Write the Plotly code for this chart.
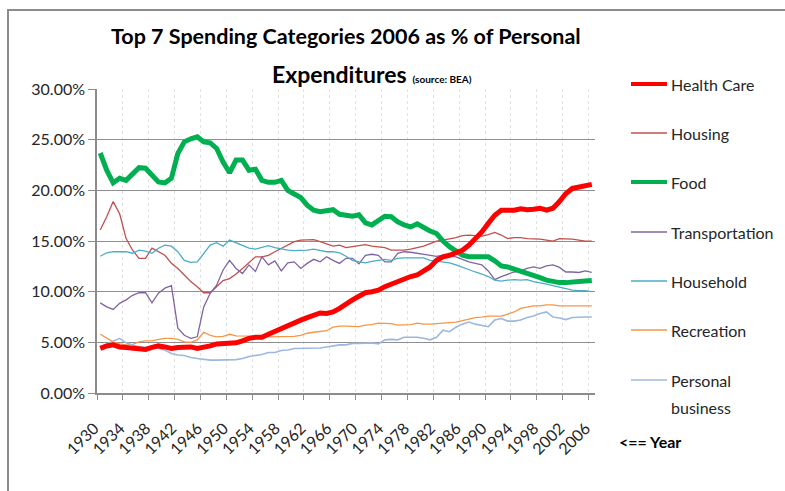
import plotly.graph_objects as go

years = list(range(1930, 2007))

health_care = [4.4, 4.65, 4.75, 4.55, 4.5, 4.4, 4.35, 4.3, 4.5, 4.65, 4.55, 4.4, 4.5, 4.55, 4.55, 4.4, 4.5, 4.65, 4.85, 4.85,
               4.9, 4.95, 5.15, 5.4, 5.5, 5.5, 5.8, 6.1, 6.4, 6.7, 6.95, 7.2, 7.45, 7.7, 7.9, 7.85, 8.0, 8.35, 8.85, 9.2,
               9.55, 9.9, 10.0, 10.15, 10.5, 10.75, 11.1, 11.3, 11.5, 11.65, 12.0, 12.45, 13.1, 13.45, 13.6, 13.85, 14.1, 14.6, 15.25, 15.9,
               16.75, 17.55, 18.05, 18.05, 18.05, 18.2, 18.1, 18.15, 18.25, 18.05, 18.25, 18.9, 19.7, 20.2, 20.35, 20.45, 20.6]

housing = [16.1, 17.4, 18.9, 17.7, 15.25, 14.1, 13.3, 13.3, 14.3, 13.95, 13.6, 12.8, 12.3, 11.65, 11.0, 10.5, 9.9, 9.9, 10.5, 11.1,
           11.3, 11.75, 12.3, 12.85, 13.45, 13.45, 13.6, 13.95, 14.3, 14.6, 14.95, 15.1, 15.1, 15.15, 14.95, 14.7, 14.5, 14.6, 14.35, 14.45,
           14.55, 14.65, 14.5, 14.45, 14.35, 14.1, 14.1, 14.1, 14.2, 14.35, 14.5, 14.75, 15.0, 15.1, 15.2, 15.35, 15.55, 15.6, 15.55, 15.5,
           15.65, 15.85, 15.6, 15.25, 15.35, 15.35, 15.25, 15.25, 15.2, 15.1, 15.0, 15.25, 15.25, 15.2, 15.1, 15.0, 15.0]

food = [23.7, 22.0, 20.75, 21.2, 21.0, 21.7, 22.25, 22.2, 21.5, 20.85, 20.75, 21.2, 23.65, 24.8, 25.1, 25.3, 24.8, 24.7, 24.15, 22.8,
        21.75, 23.0, 23.0, 22.0, 22.1, 21.0, 20.8, 20.8, 21.0, 20.0, 19.65, 19.3, 18.55, 18.05, 17.9, 18.0, 18.1, 17.65, 17.5, 17.45,
        17.6, 16.8, 16.6, 17.1, 17.45, 17.4, 16.9, 16.6, 16.4, 16.7, 16.3, 16.0, 15.75, 15.0, 14.45, 13.95, 13.6, 13.45, 13.45, 13.5,
        13.45, 13.05, 12.55, 12.45, 12.25, 12.05, 11.9, 11.65, 11.4, 11.15, 11.0, 10.9, 10.9, 10.9, 11.0, 11.05, 11.1]

transportation = [8.9, 8.5, 8.25, 8.85, 9.2, 9.65, 9.9, 9.9, 8.9, 9.85, 10.35, 10.6, 6.4, 5.7, 5.4, 5.55, 8.5, 9.85, 10.65, 12.15,
                  13.1, 12.3, 11.8, 12.65, 12.0, 13.45, 12.65, 13.05, 12.05, 12.85, 12.95, 12.3, 12.8, 13.2, 12.95, 13.45, 13.1, 12.8, 13.3, 13.3,
                  12.75, 13.6, 13.7, 13.6, 12.95, 12.95, 13.8, 13.95, 13.9, 13.8, 13.7, 13.6, 13.5, 13.6, 13.5, 13.45, 13.2, 12.95, 12.8, 12.65,
                  12.05, 11.2, 11.5, 11.7, 11.95, 12.05, 12.3, 12.45, 12.3, 12.55, 12.65, 12.4, 11.95, 11.95, 11.9, 12.05, 11.9]

household = [13.5, 13.85, 13.95, 13.95, 13.95, 13.8, 14.1, 14.0, 13.8, 14.3, 14.6, 14.5, 13.95, 13.1, 12.9, 12.95, 13.8, 14.6, 14.85, 14.5,
             15.1, 14.85, 14.6, 14.3, 14.2, 14.35, 14.55, 14.35, 14.2, 14.1, 14.05, 14.05, 14.1, 14.2, 14.05, 13.95, 13.95, 13.85, 13.5, 13.1,
             12.95, 12.85, 13.0, 13.1, 13.2, 13.1, 13.3, 13.35, 13.35, 13.35, 13.35, 13.1, 13.0, 12.95, 12.85, 12.65, 12.4, 12.15, 11.95, 11.75,
             11.5, 11.15, 11.05, 11.15, 11.2, 11.15, 11.2, 11.0, 10.9, 10.75, 10.6, 10.45, 10.25, 10.15, 10.1, 10.1, 10.0]

recreation = [5.8, 5.4, 5.05, 4.85, 4.75, 4.8, 5.05, 5.15, 5.15, 5.3, 5.4, 5.4, 5.3, 5.05, 5.0, 5.25, 6.0, 5.7, 5.55, 5.6,
              5.8, 5.65, 5.65, 5.65, 5.6, 5.6, 5.55, 5.55, 5.55, 5.55, 5.6, 5.7, 5.9, 6.0, 6.05, 6.15, 6.5, 6.6, 6.6, 6.6,
              6.55, 6.7, 6.75, 6.9, 6.9, 6.85, 6.7, 6.7, 6.75, 6.9, 6.8, 6.8, 6.85, 6.9, 6.95, 7.0, 7.15, 7.3, 7.45, 7.5,
              7.6, 7.6, 7.6, 7.8, 8.0, 8.35, 8.5, 8.6, 8.6, 8.7, 8.7, 8.6, 8.6, 8.6, 8.6, 8.6, 8.6]

personal_business = [4.55, 4.85, 5.15, 5.4, 4.95, 4.75, 4.55, 4.5, 4.55, 4.4, 4.25, 3.9, 3.75, 3.7, 3.5, 3.4, 3.3, 3.25, 3.25, 3.25,
                     3.3, 3.3, 3.4, 3.6, 3.7, 3.8, 4.0, 4.0, 4.2, 4.25, 4.4, 4.4, 4.4, 4.45, 4.45, 4.55, 4.65, 4.75, 4.75, 4.9,
                     4.9, 4.95, 4.95, 4.85, 5.25, 5.3, 5.25, 5.5, 5.5, 5.5, 5.4, 5.25, 5.5, 6.2, 6.05, 6.5, 6.8, 7.0, 6.8, 6.65,
                     6.55, 7.2, 7.35, 7.1, 7.1, 7.2, 7.45, 7.6, 7.85, 8.0, 7.5, 7.4, 7.25, 7.45, 7.5, 7.5, 7.5]

tick_years = list(range(1930, 2007, 4))
y_ticks = [0, 5, 10, 15, 20, 25, 30]
y_tick_labels = ["0.00%", "5.00%", "10.00%", "15.00%", "20.00%", "25.00%", "30.00%"]

FONT = "Lato, 'Noto Sans', sans-serif"
TXT = "#262626"

# legend order (top to bottom): name, values, colour, line width
legend_order = [
    ("Health Care", health_care, "#FF0000", 5),
    ("Housing", housing, "#C0504D", 1.3),
    ("Food", food, "#00B050", 5),
    ("Transportation", transportation, "#8064A2", 1.3),
    ("Household", household, "#4BACC6", 1.3),
    ("Recreation", recreation, "#F79646", 1.3),
    ("Personal business", personal_business, "#9DB8DE", 1.6),
]
# drawing order: thin lines first, thick ones on top
draw_order = [1, 3, 4, 5, 6, 2, 0]

fig = go.Figure()
for i in draw_order:
    name, vals, color, w = legend_order[i]
    fig.add_trace(go.Scatter(
        x=years, y=vals, mode="lines", name=name,
        line=dict(color=color, width=w), showlegend=False,
    ))

# pixel helpers for paper coordinates
L, R, T, B = 97, 595, 89, 393
def px(xp):
    return (xp - L) / (R - L)
def py(yp):
    return (B - yp) / (B - T)

shapes = [
    dict(type="rect", xref="paper", yref="paper",
         x0=px(8), x1=px(900), y0=py(600), y1=py(10),
         line=dict(color="#8c8c8c", width=2), fillcolor="rgba(0,0,0,0)", layer="below"),
]
annotations = [
    dict(text="<b>Top 7 Spending Categories 2006 as % of Personal</b>",
         x=px(346), y=py(36), xref="paper", yref="paper", showarrow=False,
         xanchor="center", yanchor="middle",
         font=dict(family=FONT, size=21.5, color="black")),
    dict(text="<b>Expenditures</b> <b><span style='font-size:10px'>(source: BEA)</span></b>",
         x=px(372), y=py(74), xref="paper", yref="paper", showarrow=False,
         xanchor="center", yanchor="middle",
         font=dict(family=FONT, size=23, color="black")),
    dict(text="<b>&lt;== Year</b>",
         x=px(617), y=py(441), xref="paper", yref="paper", showarrow=False,
         xanchor="left", yanchor="middle",
         font=dict(family=FONT, size=16, color="black")),
]

# legend drawn by hand (the native one would scroll in this tall layout)
leg_y = [84, 133, 182, 232, 281, 330, 380]
for (name, vals, color, w), yy in zip(legend_order, leg_y):
    shapes.append(dict(type="line", xref="paper", yref="paper",
                       x0=px(631), x1=px(667), y0=py(yy), y1=py(yy),
                       line=dict(color=color, width=4 if w >= 4 else 1.3)))
    parts = name.split(" ") if name == "Personal business" else [name]
    for k, part in enumerate(parts):
        annotations.append(dict(text=part, x=px(669), y=py(yy + 27 * k),
                                xref="paper", yref="paper", showarrow=False,
                                xanchor="left", yanchor="middle",
                                font=dict(family=FONT, size=16, color=TXT)))

fig.update_layout(
    width=785, height=491, autosize=False,
    margin=dict(l=L, r=785 - R, t=T, b=491 - B),
    paper_bgcolor="white", plot_bgcolor="white",
    font=dict(family=FONT, size=16, color=TXT),
    showlegend=False,
    xaxis=dict(
        range=[1929.5, 2006.5],
        tickmode="array", tickvals=tick_years, ticktext=[str(y) for y in tick_years],
        tickangle=-45, ticks="", showgrid=False, zeroline=False,
        ticklabelstandoff=18, ticklabelshift=-6,
        showline=True, linecolor="#8c8c8c", linewidth=1.5,
        tickfont=dict(family=FONT, size=16, color=TXT),
        minor=dict(tick0=1929.5, dtick=4, ticks="outside", ticklen=5, tickcolor="#8c8c8c",
                   showgrid=True, gridcolor="#e2e2e2", griddash="dot", gridwidth=1),
    ),
    yaxis=dict(
        range=[0, 30.02], tickmode="array", tickvals=y_ticks, ticktext=y_tick_labels,
        ticks="outside", ticklen=7, tickcolor="#8c8c8c",
        showgrid=True, gridcolor="#8f8f8f", gridwidth=1.3,
        zeroline=False, showline=True, linecolor="#8c8c8c", linewidth=1.5,
        tickfont=dict(family=FONT, size=16, color=TXT),
    ),
    shapes=shapes,
    annotations=annotations,
)

fig.write_html("out.html", config={"displayModeBar": False},
               post_script="document.body.style.margin='0';")
